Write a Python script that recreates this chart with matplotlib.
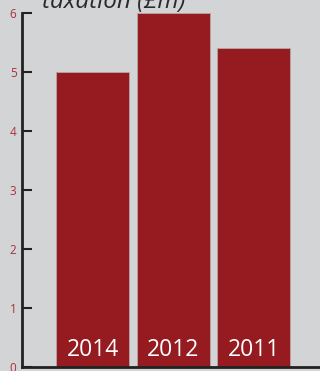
import matplotlib.pyplot as plt

# valeurs lues en millions de livres
years = ['2014', '2012', '2011']
taxation = [5.0, 6.0, 5.4]
yticks = [0, 1, 2, 3, 4, 5, 6]

bg = '#d3d4d6'
bar_color = '#951b20'
tick_color = '#a8323d'
axis_color = '#222222'

fig = plt.figure(figsize=(3.2, 3.71), dpi=100, facecolor=bg)
ax = fig.add_axes([22 / 320, 1 - 367 / 371, 1 - 22 / 320, (367 - 13) / 371])
ax.set_facecolor(bg)

pos = list(range(len(years)))
ax.bar(pos, taxation, width=0.907, color=bar_color, edgecolor='#b9a3a4', linewidth=0.6)

# libellés des années en blanc au pied des barres
for x, label in zip(pos, years):
    ax.text(x, 0.18, label, ha='center', va='baseline', color='white',
            fontsize=16.5, family='Open Sans')

ax.set_xlim(-0.876, 2.826)
ax.set_ylim(0, 6)
ax.set_xticks([])
ax.set_yticks(yticks)
ax.set_yticklabels([str(t) for t in yticks], color=tick_color, fontsize=8.5, family='Open Sans')
ax.tick_params(axis='y', direction='in', length=7, width=1.5, color=axis_color, pad=4)

for side in ['top', 'right']:
    ax.spines[side].set_visible(False)
for side in ['left', 'bottom']:
    ax.spines[side].set_color(axis_color)
    ax.spines[side].set_linewidth(2)

fig.text(42 / 320, 1 - 8 / 371, 'taxation (£m)', ha='left', va='baseline',
         fontsize=17.5, style='italic', color='#2a2a2a', family='Open Sans')

fig.savefig('out.png', dpi=100, facecolor=bg)
